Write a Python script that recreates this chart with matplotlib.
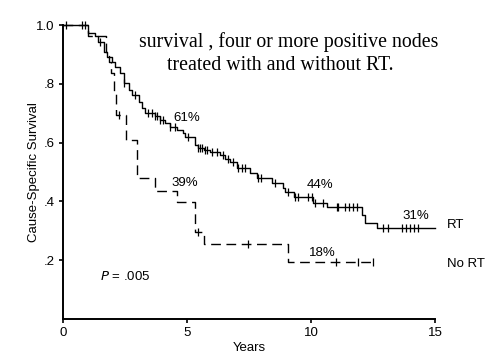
import numpy as np
import matplotlib
matplotlib.use("Agg")
import matplotlib.pyplot as plt

# ---- data ----
rt_times = [0, 1.01, 1.29, 1.41, 1.65, 1.77, 1.98, 2.10, 2.30, 2.46, 2.66, 2.78,
            3.06, 3.19, 3.31, 3.70, 3.91, 4.10, 4.31, 4.60, 4.84, 4.92, 5.32,
            5.44, 5.70, 5.93, 6.33, 6.55, 6.73, 7.02, 7.54, 7.82, 8.43, 8.87,
            8.95, 9.30, 10.08, 10.65, 12.06, 12.18, 12.66]
rt_surv = [1.0, 0.973, 0.963, 0.942, 0.908, 0.891, 0.874, 0.857, 0.837, 0.803,
           0.779, 0.762, 0.738, 0.718, 0.701, 0.690, 0.677, 0.665, 0.653, 0.643,
           0.633, 0.619, 0.592, 0.582, 0.575, 0.568, 0.558, 0.545, 0.534, 0.514,
           0.497, 0.480, 0.463, 0.447, 0.432, 0.415, 0.395, 0.381, 0.354, 0.327,
           0.310]
rt_end = 15.0
rt_censor = [0.12, 0.77, 0.87, 1.49, 2.46, 2.90, 3.43, 3.59, 3.71, 3.79, 3.91,
             4.03, 4.31, 4.52, 5.04, 5.44, 5.52, 5.60, 5.73, 5.81, 6.00, 6.20,
             6.45, 6.65, 6.85, 7.06, 7.20, 7.34, 7.86, 8.00, 8.55, 9.07, 9.35,
             9.48, 9.88, 10.04, 10.16, 10.48, 11.05, 11.09, 11.37, 11.53, 11.69,
             11.85, 12.90, 13.10, 13.67, 13.83, 13.99, 14.15, 14.31]

nort_times = [0, 1.01, 1.73, 1.85, 1.95, 2.05, 2.15, 2.55, 3.00, 3.70, 4.60,
              5.32, 5.69, 9.07]
nort_surv = [1.0, 0.963, 0.908, 0.874, 0.837, 0.772, 0.694, 0.610, 0.480, 0.435,
             0.398, 0.296, 0.255, 0.194]
nort_end = 12.5
nort_censor = [2.25, 5.44, 7.46, 11.0, 11.9, 12.5]

y_ticks = [0.2, 0.4, 0.6, 0.8, 1.0]
y_ticklabels = [".2", ".4", ".6", ".8", "1.0"]
x_ticks = [0, 5, 10, 15]
x_ticklabels = ["0", "5", "10", "15"]

pct_labels = [("61%", 5.0, 0.684), ("39%", 4.92, 0.463), ("44%", 10.36, 0.456),
              ("18%", 10.44, 0.224), ("31%", 14.23, 0.350)]

# ---- figure ----
plt.rcParams['font.family'] = ['Liberation Sans', 'DejaVu Sans']
fig = plt.figure(figsize=(4.95, 3.55), dpi=100)
ax = fig.add_axes([63/495, 1-319/355, (435-63)/495, (319-25)/355])


def stairs(times, surv, end):
    t = list(times) + [end]
    s = list(surv) + [surv[-1]]
    return np.array(t), np.array(s)


def surv_at(times, surv, tc):
    idx = np.searchsorted(np.array(times), np.array(tc), side='right') - 1
    return np.array(surv)[idx]


t, s = stairs(rt_times, rt_surv, rt_end)
ax.step(t, s, where='post', color='black', lw=1.0, clip_on=False, zorder=3)
ax.plot(rt_censor, surv_at(rt_times, rt_surv, rt_censor), ls='none', marker='|',
        ms=6, mew=0.9, color='black', clip_on=False, zorder=3)

t2, s2 = stairs(nort_times, nort_surv, nort_end)
ax.step(t2, s2, where='post', color='black', lw=1.0, ls=(0, (7, 4)),
        clip_on=False, zorder=3)
ax.plot(nort_censor, surv_at(nort_times, nort_surv, nort_censor), ls='none',
        marker='|', ms=6, mew=0.9, color='black', clip_on=False, zorder=3)

ax.set_xlim(0, 15)
ax.set_ylim(0, 1.0)
ax.set_xticks(x_ticks)
ax.set_xticklabels(x_ticklabels)
ax.set_yticks(y_ticks)
ax.set_yticklabels(y_ticklabels)
ax.tick_params(direction='out', length=3, width=1.2, labelsize=9.5, pad=3)
for side in ['top', 'right']:
    ax.spines[side].set_visible(False)
for side in ['left', 'bottom']:
    ax.spines[side].set_linewidth(1.4)

ax.set_ylabel("Cause-Specific Survival", fontsize=9.5, labelpad=-3)
ax.set_xlabel("Years", fontsize=9.5, labelpad=2)

for txt, x, y in pct_labels:
    ax.text(x, y, txt, ha='center', va='center', fontsize=9.5)

ax.text(15.48, 0.32, "RT", ha='left', va='center', fontsize=9.5, clip_on=False)
ax.text(15.48, 0.187, "No RT", ha='left', va='center', fontsize=9.5, clip_on=False)
ax.text(1.49, 0.146, r"$\it{P}$ = .005", ha='left', va='center', fontsize=9.5)

fig.text(289/495, 1-42/355, "survival , four or more positive nodes",
         ha='center', va='center', fontsize=14.3, family='Liberation Serif')
fig.text(280/495, 1-66/355, "treated with and without RT.",
         ha='center', va='center', fontsize=14.3, family='Liberation Serif')

fig.savefig("out.png", dpi=100)
